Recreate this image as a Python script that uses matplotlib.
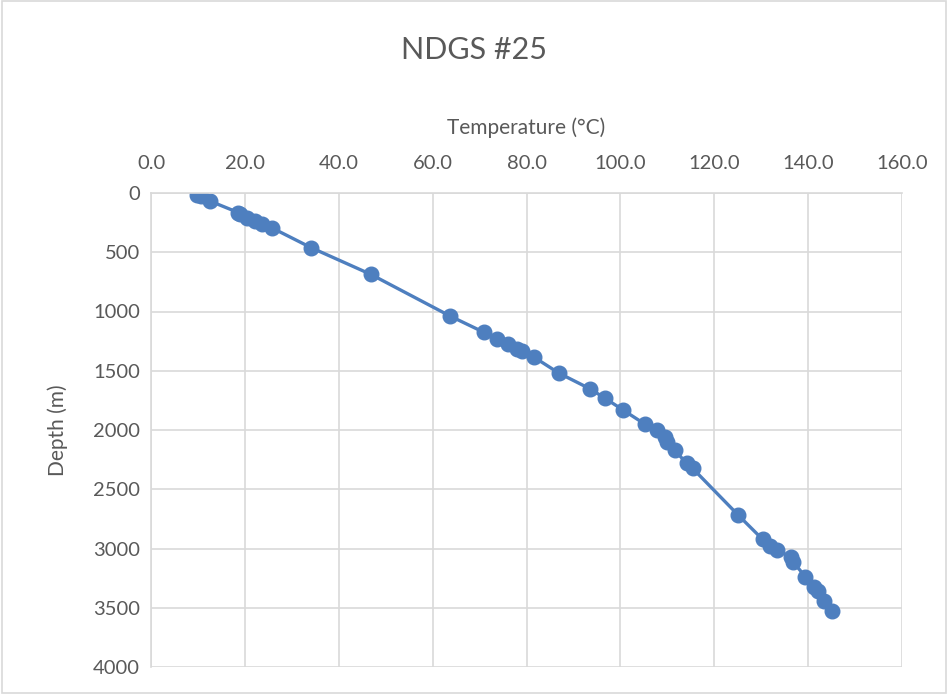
import numpy as np
import matplotlib.pyplot as plt
from matplotlib.patches import Rectangle

# temperature (C) and depth (m)
temperature = [9.8, 10.6, 12.5, 18.6, 19.0, 20.5, 22.2, 23.7, 25.8, 34.1, 46.8,
               63.8, 71.0, 73.8, 76.1, 78.0, 79.0, 81.7, 86.9, 93.5, 96.8,
               100.6, 105.2, 107.8, 109.5, 110.0, 111.6, 114.1, 115.4, 125.1,
               130.3, 131.8, 133.4, 136.4, 136.8, 139.4, 141.2, 142.1, 143.3, 145.1]
depth = [15, 28, 67, 165, 180, 210, 240, 265, 295, 461, 686,
         1040, 1177, 1231, 1278, 1318, 1332, 1388, 1520, 1652, 1734,
         1832, 1950, 2001, 2057, 2100, 2170, 2282, 2324, 2718,
         2923, 2979, 3013, 3075, 3112, 3238, 3322, 3356, 3443, 3527]

x_ticks = np.arange(0, 161, 20)
y_ticks = np.arange(0, 4001, 500)

plt.rcParams['font.family'] = ['Lato', 'DejaVu Sans']
txt = '#595959'
grid = '#d9d9d9'

fig = plt.figure(figsize=(9.48, 6.94), dpi=100)
ax = fig.add_axes([151/948, 1-667/694, (902-151)/948, (667-193)/694])

ax.plot(temperature, depth, color='#4e7fbf', lw=2.4, marker='o', ms=10.5)

ax.set_xlim(0, 160)
ax.set_ylim(4000, 0)
ax.set_xticks(x_ticks)
ax.set_yticks(y_ticks)
ax.set_xticklabels([f'{v:.1f}' for v in x_ticks])
ax.xaxis.tick_top()
ax.xaxis.set_label_position('top')
ax.tick_params(length=0, labelsize=14.5, colors=txt)
ax.tick_params(axis='x', pad=15)
ax.tick_params(axis='y', pad=8)
ax.grid(True, color=grid, lw=1.2)
ax.set_axisbelow(True)
for s in ['right', 'bottom']:
    ax.spines[s].set_visible(False)
for s in ['left', 'top']:
    ax.spines[s].set_color(grid)
    ax.spines[s].set_linewidth(1.2)

ax.set_xlabel('Temperature (°C)', fontsize=15, color=txt, labelpad=15)
ax.set_ylabel('Depth (m)', fontsize=15, color=txt, labelpad=18)
fig.text(0.5, 1-50/694, 'NDGS #25', ha='center', va='center', fontsize=22, color=txt)

fig.patches.append(Rectangle((0.002, 0.002), 0.996, 0.996, transform=fig.transFigure,
                             fill=False, edgecolor=grid, lw=1.2))

fig.savefig('out.png', dpi=100)
